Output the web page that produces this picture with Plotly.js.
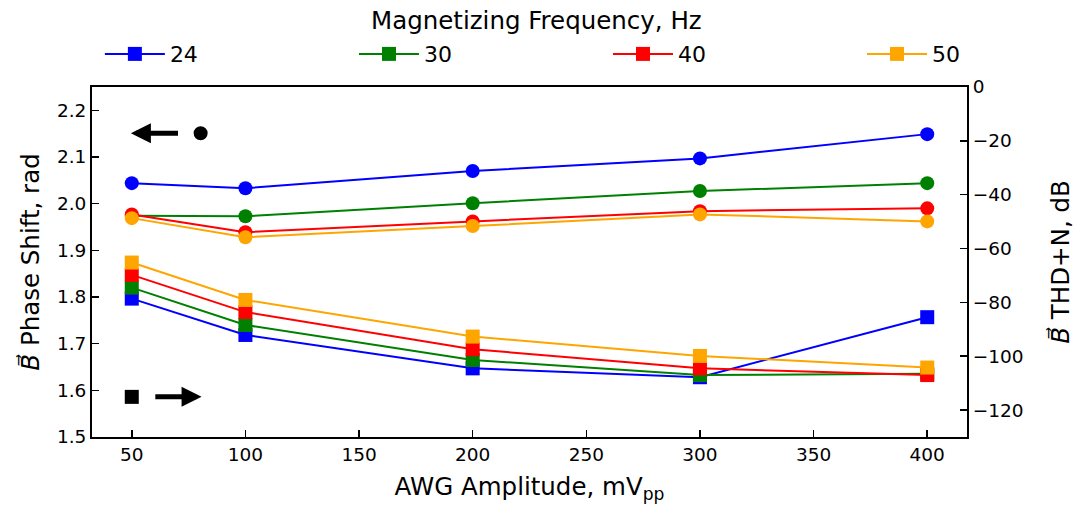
<!DOCTYPE html>
<html>
<head>
<meta charset="utf-8">
<script src="https://cdn.plot.ly/plotly-3.0.1.min.js"></script>
<style>html,body{margin:0;padding:0;background:#fff;}#chart{width:1075px;height:508px;}</style>
</head>
<body>
<div id="chart"></div>
<script>
// AWG amplitude (mVpp)
const amplitudes = [50, 100, 200, 300, 400];
// Magnetizing frequencies (Hz)
const frequencies = ['24', '30', '40', '50'];
const colors = ['#0000ff', '#008000', '#ff0000', '#ffa500'];

// Phase shift (rad), left axis, circles
const phase24 = [2.044, 2.033, 2.070, 2.097, 2.149];
const phase30 = [1.974, 1.973, 2.001, 2.027, 2.044];
const phase40 = [1.977, 1.939, 1.962, 1.984, 1.990];
const phase50 = [1.969, 1.928, 1.952, 1.977, 1.962];

// THD+N (dB), right axis, squares
const thd24 = [-78.6, -92.1, -104.5, -107.8, -85.5];
const thd30 = [-74.5, -88.4, -101.4, -107.0, -106.5];
const thd40 = [-69.8, -83.6, -97.4, -104.5, -107.0];
const thd50 = [-65.2, -79.1, -92.7, -99.9, -104.2];

const phaseSeries = [phase24, phase30, phase40, phase50];
const thdSeries = [thd24, thd30, thd40, thd50];

const phaseTicks = [1.5, 1.6, 1.7, 1.8, 1.9, 2.0, 2.1, 2.2];
const thdTicks = [0, -20, -40, -60, -80, -100, -120];
const xTicks = [50, 100, 150, 200, 250, 300, 350, 400];

const FONT = 'DejaVu Sans, sans-serif';
const legendNames = ['legend', 'legend2', 'legend3', 'legend4'];
const legendX = [0.009, 0.2994, 0.5897, 0.880];

const traces = [];
for (let i = 0; i < frequencies.length; i++) {
  traces.push({
    x: amplitudes, y: phaseSeries[i], type: 'scatter', mode: 'lines+markers',
    yaxis: 'y', showlegend: false, name: frequencies[i],
    line: {color: colors[i], width: 2},
    marker: {color: colors[i], symbol: 'circle', size: 14}
  });
  traces.push({
    x: amplitudes, y: thdSeries[i], type: 'scatter', mode: 'lines+markers',
    yaxis: 'y2', showlegend: true, name: frequencies[i], legend: legendNames[i],
    line: {color: colors[i], width: 2},
    marker: {color: colors[i], symbol: 'square', size: 14}
  });
}

const layout = {
  width: 1075, height: 508,
  margin: {l: 92, r: 108, t: 87, b: 71, autoexpand: false},
  paper_bgcolor: '#fff', plot_bgcolor: '#fff',
  font: {family: FONT, color: '#000', size: 18.5},
  showlegend: true,
  xaxis: {
    range: [32.5, 417.5], tickvals: xTicks, ticks: 'inside', ticklen: 7, tickwidth: 1.5,
    tickcolor: '#000', showline: true, linecolor: '#000', linewidth: 2, mirror: true,
    showgrid: false, zeroline: false, tickfont: {size: 18.5},
    title: {text: 'AWG Amplitude, mV<sub>pp</sub>', font: {size: 24.5}, standoff: 14}
  },
  yaxis: {
    range: [1.5, 2.25], tickvals: phaseTicks, tickformat: '.1f', ticks: 'inside', ticklen: 7,
    tickwidth: 1.5, tickcolor: '#000', showline: true, linecolor: '#000', linewidth: 2,
    showgrid: false, zeroline: false, tickfont: {size: 18.5},
    title: {text: '<i>B\u20D7</i> Phase Shift, rad', font: {size: 24.5}, standoff: 10}
  },
  yaxis2: {
    range: [-130, 0], tickvals: thdTicks, overlaying: 'y', side: 'right', ticks: 'inside',
    ticklen: 7, tickwidth: 1.5, tickcolor: '#000', showline: true, linecolor: '#000',
    linewidth: 2, showgrid: false, zeroline: false, tickfont: {size: 18.5},
    title: {text: '<i>B\u20D7</i> THD+N, dB', font: {size: 24.5}, standoff: 30}
  },
  annotations: [
    {x: 0.508, y: 1.191, xref: 'paper', yref: 'paper', yanchor: 'middle', xanchor: 'center',
     text: 'Magnetizing Frequency, Hz', showarrow: false, font: {size: 24.5}},
    {x: 49.6, y: 2.151, ax: 71, ay: 2.151, xref: 'x', yref: 'y', axref: 'x', ayref: 'y',
     text: '', showarrow: true, arrowhead: 2, arrowsize: 0.8, arrowwidth: 5, arrowcolor: '#000'},
    {x: 80.7, y: 1.586, ax: 59.7, ay: 1.586, xref: 'x', yref: 'y', axref: 'x', ayref: 'y',
     text: '', showarrow: true, arrowhead: 2, arrowsize: 0.8, arrowwidth: 5, arrowcolor: '#000'}
  ],
  shapes: [
    {type: 'circle', xref: 'x', yref: 'y', xsizemode: 'pixel', ysizemode: 'pixel',
     xanchor: 80.3, yanchor: 2.151, x0: -7, x1: 7, y0: -7, y1: 7,
     fillcolor: '#000', line: {width: 0}},
    {type: 'rect', xref: 'x', yref: 'y', xsizemode: 'pixel', ysizemode: 'pixel',
     xanchor: 50, yanchor: 1.586, x0: -7, x1: 7, y0: -7, y1: 7,
     fillcolor: '#000', line: {width: 0}}
  ]
};
legendNames.forEach(function (nm, i) {
  layout[nm] = {
    orientation: 'h', x: legendX[i], xanchor: 'left', y: 1.154, yanchor: 'top',
    font: {size: 22}, itemwidth: 60, bgcolor: 'rgba(0,0,0,0)'
  };
});

Plotly.newPlot('chart', traces, layout, {displayModeBar: false, staticPlot: true});
</script>
</body>
</html>
